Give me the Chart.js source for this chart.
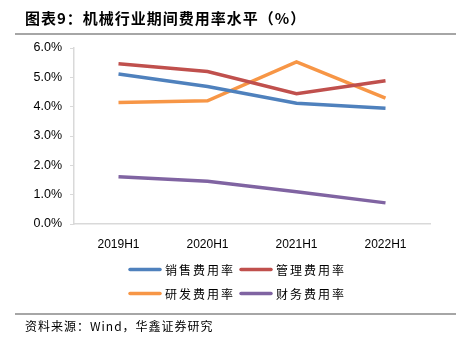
<!DOCTYPE html>
<html>
<head>
<meta charset="utf-8">
<script src="https://cdn.jsdelivr.net/npm/chart.js@4/dist/chart.umd.min.js"></script>
<style>
    html, body { margin: 0; padding: 0; background: #fff; }
    #page { position: relative; width: 456px; height: 342px; overflow: hidden; }
    #title {
        position: absolute; left: 25px; top: 7px;
        font-family: "Noto Sans CJK SC", sans-serif; font-weight: bold;
        font-size: 15px; letter-spacing: 1px; color: #000; white-space: nowrap;
    }
    .rule { position: absolute; left: 15px; right: 0; height: 2px; background: #a6a6a6; }
    #source {
        position: absolute; left: 25px; top: 317px;
        font-family: "Noto Sans CJK SC", sans-serif; font-size: 12px;
        letter-spacing: 1px; color: #000; white-space: nowrap;
    }
    #wrap { position: absolute; left: 0; top: 0; width: 456px; height: 342px; }
</style>
</head>
<body>
<div id="page">
    <div id="wrap"><canvas id="expenseChart"></canvas></div>
    <div id="title">图表9：机械行业期间费用率水平（%）</div>
    <div class="rule" style="top:33px"></div>
    <div class="rule" style="top:313px"></div>
    <div id="source">资料来源：Wind，华鑫证券研究</div>
</div>
<script>
// --- Data ---
const periods = ['2019H1', '2020H1', '2021H1', '2022H1'];
const salesRate = [5.11, 4.69, 4.12, 3.95];   // 销售费用率
const mgmtRate = [5.46, 5.20, 4.44, 4.88];    // 管理费用率
const rdRate = [4.14, 4.20, 5.53, 4.29];      // 研发费用率
const finRate = [1.61, 1.46, 1.10, 0.72];     // 财务费用率
const yTickLabels = ['0.0%', '1.0%', '2.0%', '3.0%', '4.0%', '5.0%', '6.0%'];

const axisGray = '#d9d9d9';

const series = [
    { label: '销售费用率', data: salesRate, color: '#4f81bd' },
    { label: '管理费用率', data: mgmtRate, color: '#c0504d' },
    { label: '研发费用率', data: rdRate, color: '#f79646' },
    { label: '财务费用率', data: finRate, color: '#8064a2' }
];

// two-column legend under the x axis
const gridLegend = {
    id: 'gridLegend',
    afterDraw(chart) {
        const ctx = chart.ctx;
        const area = chart.chartArea;
        const rowY = [area.bottom + 45.5, area.bottom + 69.5];
        const colX = [129, 240];
        ctx.save();
        ctx.font = '12px "Noto Sans CJK SC", sans-serif';
        ctx.letterSpacing = '2px';
        ctx.textBaseline = 'middle';
        ctx.fillStyle = '#000';
        chart.data.datasets.forEach((ds, i) => {
            const x = colX[i % 2];
            const y = rowY[Math.floor(i / 2)];
            ctx.beginPath();
            ctx.strokeStyle = ds.borderColor;
            ctx.lineWidth = 3.5;
            ctx.lineCap = 'round';
            ctx.moveTo(x + 1, y);
            ctx.lineTo(x + 31, y);
            ctx.stroke();
            ctx.fillText(ds.label, x + 36, y + 1);
        });
        ctx.restore();
    }
};

new Chart(document.getElementById('expenseChart'), {
    type: 'line',
    data: {
        labels: periods,
        datasets: series.map(s => ({
            label: s.label,
            data: s.data,
            borderColor: s.color,
            backgroundColor: s.color,
            borderWidth: 3.5,
            pointRadius: 0,
            tension: 0,
            fill: false
        }))
    },
    options: {
        responsive: true,
        maintainAspectRatio: false,
        animation: false,
        layout: { padding: { left: 20, right: 26, top: 48, bottom: 88 } },
        plugins: {
            legend: { display: false },
            tooltip: { enabled: false }
        },
        scales: {
            x: {
                offset: true,
                grid: { display: false },
                border: { display: true, color: axisGray, width: 1.5 },
                ticks: {
                    color: '#000',
                    padding: 5,
                    font: { family: '"Liberation Sans", Arial, sans-serif', size: 12 }
                },
                afterFit(scale) { scale.height = 30; }
            },
            y: {
                min: 0,
                max: 6,
                ticks: {
                    stepSize: 1,
                    color: '#000',
                    padding: 8,
                    font: { family: '"Liberation Sans", Arial, sans-serif', size: 12.5 },
                    callback: (value, i) => yTickLabels[i]
                },
                grid: { drawOnChartArea: false, drawTicks: true, tickLength: 4, color: axisGray },
                border: { display: true, color: axisGray, width: 1.5 },
                afterFit(scale) { scale.width = 54; }
            }
        }
    },
    plugins: [gridLegend]
});
</script>
</body>
</html>
